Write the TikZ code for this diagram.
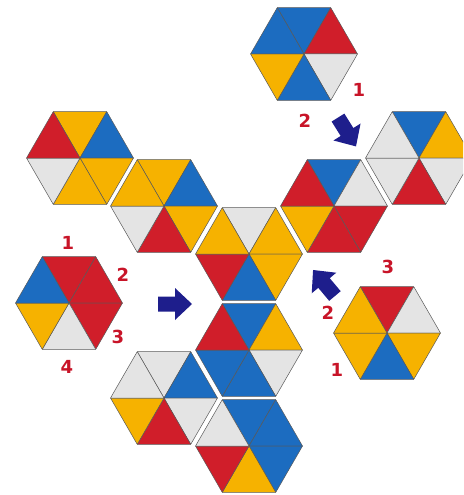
\documentclass[tikz,border=0pt]{standalone}
\usepackage{fontspec}
\newfontfamily\lblfont{DejaVu Sans}
\definecolor{tblue}{RGB}{28,108,192}
\definecolor{tred}{RGB}{208,30,42}
\definecolor{tyellow}{RGB}{246,178,0}
\definecolor{twhite}{RGB}{228,228,228}
\definecolor{arrowblue}{RGB}{30,30,140}
\definecolor{lblred}{RGB}{200,20,40}

\newcommand{\hexside}{53.5}
% one tile: centre, then top, upper right, lower right, bottom, lower left, upper left
\newcommand{\hexa}[7]{%
  \begin{scope}[shift={(#1)}]
    \filldraw[tri,fill=#2] (0,0) -- (240:\hexside) -- (300:\hexside) -- cycle;
    \filldraw[tri,fill=#3] (0,0) -- (300:\hexside) -- (0:\hexside) -- cycle;
    \filldraw[tri,fill=#4] (0,0) -- (0:\hexside) -- (60:\hexside) -- cycle;
    \filldraw[tri,fill=#5] (0,0) -- (60:\hexside) -- (120:\hexside) -- cycle;
    \filldraw[tri,fill=#6] (0,0) -- (120:\hexside) -- (180:\hexside) -- cycle;
    \filldraw[tri,fill=#7] (0,0) -- (180:\hexside) -- (240:\hexside) -- cycle;
  \end{scope}}
\newcommand{\movearrow}[2]{%
  \fill[arrowblue,shift={(#1)},rotate=#2] (-17,-7.5) -- (0,-7.5) -- (0,-16)
    -- (17,0) -- (0,16) -- (0,7.5) -- (-17,7.5) -- cycle;}

\tikzset{
  tri/.style={draw=black!65,line width=0.5pt,line join=round},
  lbl/.style={text=lblred,font=\lblfont\bfseries\fontsize{18}{18}\selectfont,inner sep=0pt}
}

\begin{document}
\begin{tikzpicture}[x=1pt,y=-1pt]
\useasboundingbox (0,0) rectangle (463,495);
\clip (0,0) rectangle (463,495);

% single tiles
\hexa{304,54}{tblue}{tred}{twhite}{tblue}{tyellow}{tblue}
\hexa{69,303}{tred}{tred}{tred}{twhite}{tyellow}{tblue}
\hexa{387,333}{tred}{twhite}{tyellow}{tblue}{tyellow}{tyellow}

% the laid out tiles
\hexa{80,158}{tyellow}{tblue}{tyellow}{tyellow}{twhite}{tred}
\hexa{164,206}{tyellow}{tblue}{tyellow}{tred}{twhite}{tyellow}
\hexa{249,254}{twhite}{tyellow}{tyellow}{tblue}{tred}{tyellow}
\hexa{334,206}{tblue}{twhite}{tred}{tred}{tyellow}{tred}
\hexa{419,158}{tblue}{tyellow}{twhite}{tred}{twhite}{twhite}
\hexa{249,350}{tblue}{tyellow}{twhite}{tblue}{tblue}{tred}
\hexa{164,398}{twhite}{tblue}{twhite}{tred}{tyellow}{twhite}
\hexa{249,446}{tblue}{tblue}{tblue}{tyellow}{tred}{twhite}

% arrows
\movearrow{347,132}{-58}
\movearrow{175,304}{0}
\movearrow{324,283}{130}

% numbers
\node[lbl] (t1) at (359,90) {1};
\node[lbl] (t2) at (305,121) {2};
\node[lbl] (l1) at (68,243) {1};
\node[lbl] (l2) at (123,275) {2};
\node[lbl] (l3) at (118,337) {3};
\node[lbl] (l4) at (67,367) {4};
\node[lbl] (r3) at (388,267) {3};
\node[lbl] (r2) at (328,313) {2};
\node[lbl] (r1) at (337,370) {1};
\end{tikzpicture}
\end{document}
